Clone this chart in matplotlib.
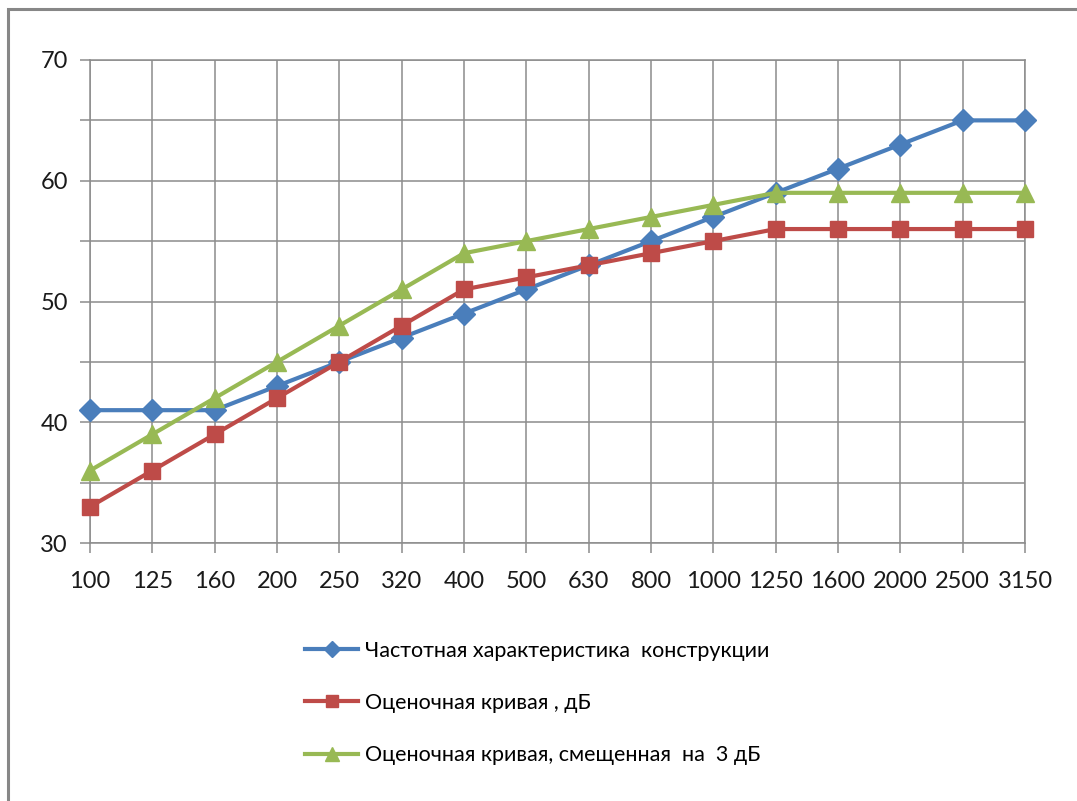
import matplotlib.pyplot as plt
from matplotlib.patches import Rectangle
from matplotlib.ticker import MultipleLocator, FuncFormatter

plt.rcParams['font.family'] = ['Lato', 'DejaVu Sans']

freqs = ['100', '125', '160', '200', '250', '320', '400', '500', '630',
         '800', '1000', '1250', '1600', '2000', '2500', '3150']
construction = [41, 41, 41, 43, 45, 47, 49, 51, 53, 55, 57, 59, 61, 63, 65, 65]
reference = [33, 36, 39, 42, 45, 48, 51, 52, 53, 54, 55, 56, 56, 56, 56, 56]
shifted = [36, 39, 42, 45, 48, 51, 54, 55, 56, 57, 58, 59, 59, 59, 59, 59]

labels = ['Частотная характеристика  конструкции',
          'Оценочная кривая , дБ',
          'Оценочная кривая, смещенная  на  3 дБ']

fig = plt.figure(figsize=(10.77, 8.01), dpi=100)
# outer chart border (left and top only visible)
fig.patches.append(Rectangle((8 / 1077, -0.1), 1.2, 1 - 9 / 801 + 0.1,
                             transform=fig.transFigure, fill=False,
                             edgecolor='#878787', linewidth=2.2))

ax = fig.add_axes([90 / 1077, 1 - 543 / 801, 935 / 1077, 483 / 801])
x = range(len(freqs))
ax.plot(x, construction, color='#4A7EBB', lw=3, marker='D', ms=11, label=labels[0], zorder=3, clip_on=False)
ax.plot(x, reference, color='#BE4B48', lw=3, marker='s', ms=12, label=labels[1], zorder=3, clip_on=False)
ax.plot(x, shifted, color='#98B954', lw=3, marker='^', ms=13, label=labels[2], zorder=4, clip_on=False)

ax.set_xlim(0, len(freqs) - 1)
ax.set_ylim(30, 70)
ax.set_xticks(list(x))
ax.set_xticklabels(freqs)
ax.yaxis.set_major_locator(MultipleLocator(5))
ax.yaxis.set_major_formatter(FuncFormatter(lambda v, p: f'{v:.0f}' if v % 10 == 0 else ''))
ax.grid(True, color='#8c8c8c', lw=1.1)
ax.set_axisbelow(True)
for s in ax.spines.values():
    s.set_color('#8c8c8c')
    s.set_linewidth(1.1)
ax.tick_params(axis='both', colors='#8c8c8c', labelcolor='#1a1a1a', length=7, width=1.1, labelsize=17)
ax.tick_params(axis='y', pad=9)
ax.tick_params(axis='x', pad=13)

fig.legend(loc='upper left', bbox_to_anchor=(296 / 1077, 1 - 632 / 801), frameon=False,
           fontsize=15.5, handlelength=2.5, handletextpad=0.3, labelspacing=1.5,
           markerscale=0.75, borderaxespad=0)

fig.savefig('out.png', dpi=100)
